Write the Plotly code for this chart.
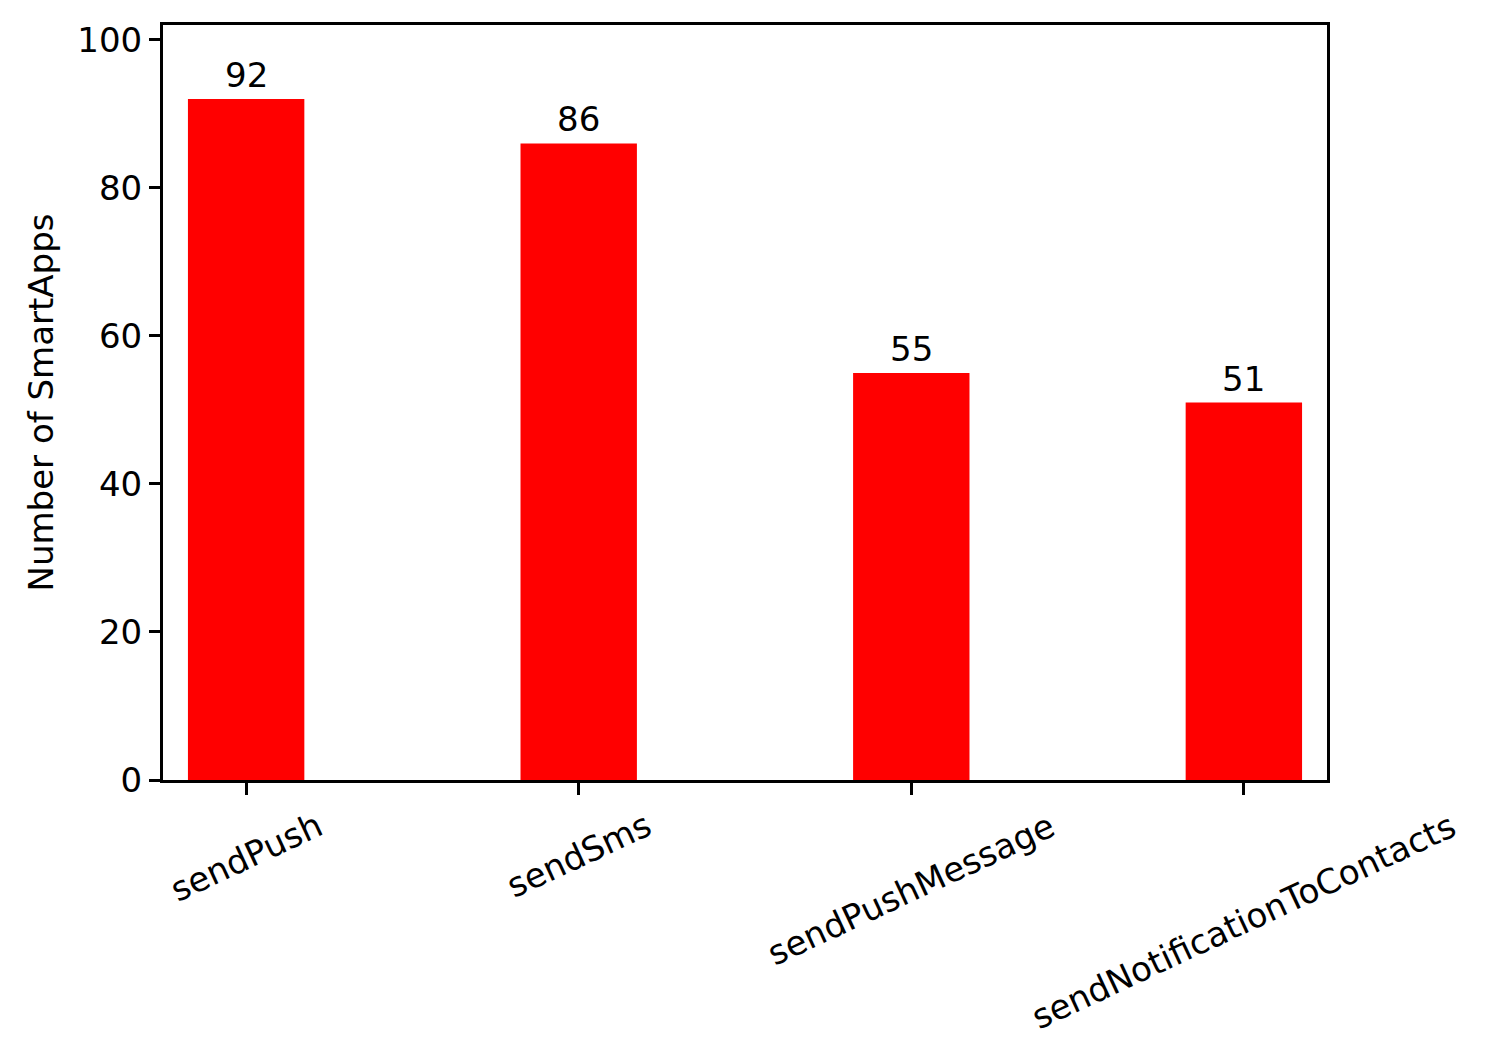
import plotly.graph_objects as go

categories = ["sendPush", "sendSms", "sendPushMessage", "sendNotificationToContacts"]
values = [92, 86, 55, 51]
y_ticks = [0, 20, 40, 60, 80, 100]

FONT = "DejaVu Sans"
FS = 34

fig = go.Figure()
xs = list(range(len(categories)))
fig.add_trace(go.Bar(x=xs, y=values, width=0.35, marker=dict(color="#ff0000", line=dict(width=0)),
                     showlegend=False, hoverinfo="x+y"))

annotations = []
for x, v in zip(xs, values):
    annotations.append(dict(x=x, y=v, xref="x", yref="y", text=str(v), showarrow=False,
                            xanchor="center", yanchor="bottom", yshift=2,
                            font=dict(family=FONT, size=FS, color="black")))
for x, c in zip(xs, categories):
    annotations.append(dict(x=x, y=0, xref="x", yref="y", text=c, showarrow=False,
                            xanchor="center", yanchor="top", yshift=-22, textangle=-25,
                            font=dict(family=FONT, size=FS, color="black")))
annotations.append(dict(x=0, y=0.5, xref="paper", yref="paper", text="Number of SmartApps",
                        showarrow=False, textangle=-90, xanchor="center", yanchor="middle",
                        xshift=-123, font=dict(family=FONT, size=FS, color="black")))

fig.update_layout(
    width=1483, height=1054,
    margin=dict(l=155, r=164, t=17, b=282, pad=0),
    paper_bgcolor="white", plot_bgcolor="white",
    font=dict(family=FONT, size=FS, color="black"),
    annotations=annotations,
    xaxis=dict(range=[-0.25, 3.25], tickmode="array", tickvals=xs, ticktext=[""] * len(xs),
               ticks="outside", ticklen=12, tickwidth=2.5, tickcolor="black",
               showline=True, linecolor="black", linewidth=3, mirror=True,
               showgrid=False, zeroline=False),
    yaxis=dict(range=[0, 102], tickmode="array", tickvals=y_ticks, ticktext=[str(t) for t in y_ticks],
               ticks="outside", ticklen=11, tickwidth=2.5, tickcolor="black",
               showline=True, linecolor="black", linewidth=3, mirror=True,
               showgrid=False, zeroline=False, tickfont=dict(family=FONT, size=FS, color="black")),
)

fig.write_html("out.html")
